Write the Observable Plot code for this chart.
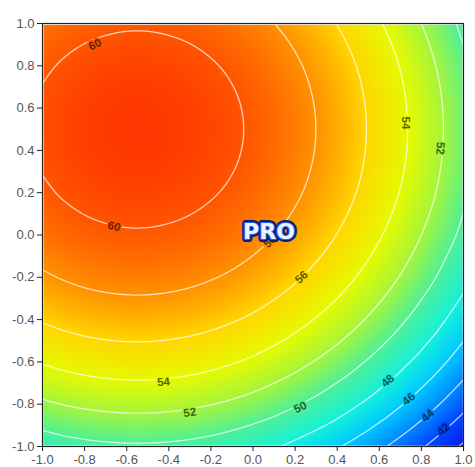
<!DOCTYPE html>
<html>
<head>
<meta charset="utf-8">
<script src="https://cdn.jsdelivr.net/npm/d3@7"></script>
<script src="https://cdn.jsdelivr.net/npm/@observablehq/plot@0.6"></script>
<style>
  html, body { margin: 0; padding: 0; background: #ffffff; }
  #chart svg { display: block; }
</style>
</head>
<body>
<div id="chart"></div>
<script>
// ---- data ----
const xValues = [-1.0, -0.9, -0.8, -0.7, -0.6, -0.5, -0.4, -0.3, -0.2, -0.1, 0.0, 0.1, 0.2, 0.3, 0.4, 0.5, 0.6, 0.7, 0.8, 0.9, 1.0];
const yValues = [1.0, 0.9, 0.8, 0.7, 0.6, 0.5, 0.4, 0.3, 0.2, 0.1, 0.0, -0.1, -0.2, -0.3, -0.4, -0.5, -0.6, -0.7, -0.8, -0.9, -1.0];
// surface values, one row per y (top row y = 1.0)
const zRows = [
  [58.97, 59.31, 59.57, 59.74, 59.83, 59.83, 59.74, 59.57, 59.31, 58.97, 58.54, 58.02, 57.42, 56.73, 55.96, 55.10, 54.15, 53.12, 52.00, 50.80, 49.57],
  [59.42, 59.76, 60.02, 60.19, 60.28, 60.28, 60.19, 60.02, 59.76, 59.42, 58.99, 58.47, 57.87, 57.18, 56.41, 55.55, 54.60, 53.57, 52.45, 51.25, 49.97],
  [59.78, 60.12, 60.38, 60.55, 60.64, 60.64, 60.55, 60.38, 60.12, 59.78, 59.35, 58.83, 58.23, 57.54, 56.77, 55.91, 54.96, 53.93, 52.81, 51.61, 50.32],
  [60.03, 60.37, 60.63, 60.80, 60.89, 60.89, 60.80, 60.63, 60.37, 60.03, 59.60, 59.08, 58.48, 57.79, 57.02, 56.16, 55.21, 54.18, 53.06, 51.86, 50.57],
  [60.18, 60.52, 60.78, 60.95, 61.04, 61.04, 60.95, 60.78, 60.52, 60.18, 59.75, 59.23, 58.63, 57.94, 57.17, 56.31, 55.36, 54.33, 53.21, 52.01, 50.72],
  [60.23, 60.57, 60.83, 61.00, 61.09, 61.09, 61.00, 60.83, 60.57, 60.23, 59.80, 59.28, 58.68, 57.99, 57.22, 56.36, 55.41, 54.38, 53.26, 52.06, 50.77],
  [60.18, 60.52, 60.78, 60.95, 61.04, 61.04, 60.95, 60.78, 60.52, 60.18, 59.75, 59.23, 58.63, 57.94, 57.17, 56.31, 55.36, 54.33, 53.21, 52.01, 50.72],
  [60.03, 60.37, 60.63, 60.80, 60.89, 60.89, 60.80, 60.63, 60.37, 60.03, 59.60, 59.08, 58.48, 57.79, 57.02, 56.16, 55.21, 54.18, 53.06, 51.86, 50.57],
  [59.78, 60.12, 60.38, 60.55, 60.64, 60.64, 60.55, 60.38, 60.12, 59.78, 59.35, 58.83, 58.23, 57.54, 56.77, 55.91, 54.96, 53.93, 52.81, 51.61, 50.32],
  [59.42, 59.76, 60.02, 60.19, 60.28, 60.28, 60.19, 60.02, 59.76, 59.42, 58.99, 58.47, 57.87, 57.18, 56.41, 55.55, 54.60, 53.57, 52.45, 51.25, 49.97],
  [58.97, 59.31, 59.57, 59.74, 59.83, 59.83, 59.74, 59.57, 59.31, 58.97, 58.54, 58.02, 57.42, 56.73, 55.96, 55.10, 54.15, 53.12, 52.00, 50.80, 49.57],
  [58.41, 58.75, 59.01, 59.18, 59.27, 59.27, 59.18, 59.01, 58.75, 58.41, 57.98, 57.46, 56.86, 56.17, 55.40, 54.54, 53.59, 52.56, 51.44, 50.24, 49.07],
  [57.76, 58.10, 58.36, 58.53, 58.62, 58.62, 58.53, 58.36, 58.10, 57.76, 57.33, 56.81, 56.21, 55.52, 54.75, 53.89, 52.94, 51.91, 50.79, 49.64, 48.48],
  [57.00, 57.34, 57.60, 57.77, 57.86, 57.86, 57.77, 57.60, 57.34, 57.00, 56.57, 56.05, 55.45, 54.76, 53.99, 53.13, 52.18, 51.15, 50.04, 48.96, 47.80],
  [56.14, 56.48, 56.74, 56.91, 57.00, 57.00, 56.91, 56.74, 56.48, 56.14, 55.71, 55.19, 54.59, 53.90, 53.13, 52.27, 51.32, 50.29, 49.26, 48.18, 46.98],
  [55.18, 55.52, 55.78, 55.95, 56.04, 56.04, 55.95, 55.78, 55.52, 55.18, 54.75, 54.23, 53.63, 52.94, 52.17, 51.31, 50.36, 49.41, 48.40, 47.31, 46.02],
  [54.12, 54.46, 54.72, 54.89, 54.98, 54.98, 54.89, 54.72, 54.46, 54.12, 53.69, 53.17, 52.57, 51.88, 51.11, 50.25, 49.38, 48.45, 47.45, 46.25, 44.96],
  [52.96, 53.30, 53.56, 53.73, 53.82, 53.82, 53.73, 53.56, 53.30, 52.96, 52.53, 52.01, 51.41, 50.72, 49.97, 49.19, 48.34, 47.41, 46.29, 45.09, 43.80],
  [51.70, 52.04, 52.30, 52.47, 52.56, 52.56, 52.47, 52.30, 52.04, 51.70, 51.27, 50.75, 50.15, 49.52, 48.83, 48.06, 47.18, 46.15, 45.03, 43.83, 42.54],
  [50.33, 50.67, 50.93, 51.10, 51.19, 51.19, 51.10, 50.93, 50.67, 50.33, 49.92, 49.45, 48.91, 48.29, 47.60, 46.76, 45.81, 44.78, 43.66, 42.46, 41.17],
  [48.99, 49.30, 49.53, 49.69, 49.77, 49.77, 49.69, 49.53, 49.30, 48.99, 48.61, 48.14, 47.60, 46.93, 46.16, 45.30, 44.35, 43.32, 42.20, 41.00, 39.71]
];
const contourLevels = [40, 42, 44, 46, 48, 50, 52, 54, 56, 58, 60];
const tickValues = [-1.0, -0.8, -0.6, -0.4, -0.2, 0, 0.2, 0.4, 0.6, 0.8, 1.0];

// contour labels
const labelText  = ["60", "60", "58", "56", "54", "54", "52", "52", "50", "48", "46", "44", "42"];
const labelLevel = [60, 60, 58, 56, 54, 54, 52, 52, 50, 48, 46, 44, 42];
const labelX     = [-0.75, -0.66, 0.08, 0.23, 0.725, -0.425, 0.89, -0.30, 0.225, 0.64, 0.74, 0.83, 0.905];
const labelY     = [0.90, 0.04, -0.03, -0.20, 0.53, -0.695, 0.41, -0.84, -0.815, -0.69, -0.775, -0.855, -0.92];
const labelAngle = [-27, 14, -43, -43, 90, -5, 94, -9, -27, -40, -41, -42, -42];

// colour ramp (value -> colour)
const colorDomain = [39.4, 42, 44, 46, 48, 50, 52, 54, 56, 58, 60, 61.1];
const colorRange  = ["#0a14eb", "#0046ff", "#0087ff", "#00c8ff", "#14f0dc", "#50f096", "#a5f53c", "#e6fa00", "#ffd700", "#ff9100", "#ff5500", "#ff3700"];

// ---- build tables ----
const nCols = xValues.length, nRows = yValues.length;
const points = [];
yValues.forEach((y, j) => xValues.forEach((x, i) => points.push({x, y, z: zRows[j][i]})));
const labels = labelText.map((t, i) => ({t, level: labelLevel[i], x: labelX[i], y: labelY[i], angle: labelAngle[i]}));

// smooth (Catmull-Rom) rendering of the regular sample grid, used by raster & contour
function smoothGrid(index, width, height, X, Y, V) {
  const G = Array.from({length: nRows}, () => new Float64Array(nCols));
  for (const i of index) G[Math.floor(i / nCols)][i % nCols] = V[i];
  const gv = (r, c) => {
    if (r < 0) return 2 * gv(0, c) - gv(1, c);
    if (r > nRows - 1) return 2 * gv(nRows - 1, c) - gv(nRows - 2, c);
    if (c < 0) return 2 * gv(r, 0) - gv(r, 1);
    if (c > nCols - 1) return 2 * gv(r, nCols - 1) - gv(r, nCols - 2);
    return G[r][c];
  };
  const cr = (p0, p1, p2, p3, t) =>
    p1 + 0.5 * t * (p2 - p0 + t * (2 * p0 - 5 * p1 + 4 * p2 - p3 + t * (3 * (p1 - p2) + p3 - p0)));
  const X0 = X[0], dX = X[1] - X[0], Y0 = Y[0], dY = Y[nCols] - Y[0];
  const out = new Float64Array(width * height);
  for (let py = 0; py < height; ++py) {
    let v = (py + 0.5 - Y0) / dY;
    v = Math.max(0, Math.min(nRows - 1, v));
    const r = Math.min(nRows - 2, Math.floor(v)), s = v - r;
    for (let px = 0; px < width; ++px) {
      let u = (px + 0.5 - X0) / dX;
      u = Math.max(0, Math.min(nCols - 1, u));
      const c = Math.min(nCols - 2, Math.floor(u)), t = u - c;
      const rowVal = k => cr(gv(k, c - 1), gv(k, c), gv(k, c + 1), gv(k, c + 2), t);
      out[py * width + px] = cr(rowVal(r - 1), rowVal(r), rowVal(r + 1), rowVal(r + 2), s);
    }
  }
  return out;
}

const ramp = d3.scaleLinear().domain(colorDomain).range(colorRange).clamp(true);
const fmt = d => d.toFixed(1);
const font = "'Liberation Sans', Arial, sans-serif";

const labelMarks = labels.map(l => Plot.text([l], {
  x: "x", y: "y", text: "t", rotate: l.angle,
  fill: d3.color(ramp(l.level)).darker(2.6).formatHex(),
  stroke: ramp(l.level), strokeWidth: 3.5, paintOrder: "stroke",
  fontSize: 11.5, fontWeight: "bold", fontFamily: font
}));

const chart = Plot.plot({
  width: 475,
  height: 467,
  marginLeft: 42,
  marginRight: 12,
  marginTop: 23,
  marginBottom: 21,
  style: {fontFamily: font, background: "#ffffff", overflow: "visible"},
  x: {domain: [-1, 1], label: null},
  y: {domain: [-1, 1], label: null},
  color: {type: "linear", domain: colorDomain, range: colorRange, clamp: true},
  marks: [
    Plot.raster(points, {x: "x", y: "y", fill: "z", interpolate: smoothGrid, x1: -1, x2: 1, y1: -1, y2: 1}),
    Plot.contour(points, {x: "x", y: "y", value: "z", interpolate: smoothGrid, x1: -1, x2: 1, y1: -1, y2: 1, pixelSize: 1,
      thresholds: contourLevels, fill: "none", stroke: "#ffffff", strokeOpacity: 0.72, strokeWidth: 1.3}),
    ...labelMarks,
    Plot.text(["PRO"], {frameAnchor: "middle", text: d => d, dx: 16, dy: -3, fontSize: 22, fontWeight: "bold",
      fontFamily: "'DejaVu Sans', sans-serif", fill: "#1f4fe0", stroke: "#0b1f70", strokeWidth: 6, paintOrder: "stroke"}),
    Plot.text(["PRO"], {frameAnchor: "middle", text: d => d, dx: 16, dy: -3, fontSize: 22, fontWeight: "bold",
      fontFamily: "'DejaVu Sans', sans-serif", fill: "#eef4ff", stroke: "#2a62ee", strokeWidth: 2.2, paintOrder: "stroke"}),
    Plot.axisX({ticks: tickValues, tickFormat: fmt, tickSize: 5, tickPadding: 3, fontSize: 13, fill: "#555555", stroke: "#222222", label: null}),
    Plot.axisY({ticks: tickValues, tickFormat: fmt, tickSize: 5, tickPadding: 3, fontSize: 13, fill: "#555555", stroke: "#222222", label: null}),
    Plot.frame({stroke: "#222222", strokeWidth: 1.2})
  ]
});
document.getElementById("chart").appendChild(chart);
</script>
</body>
</html>
